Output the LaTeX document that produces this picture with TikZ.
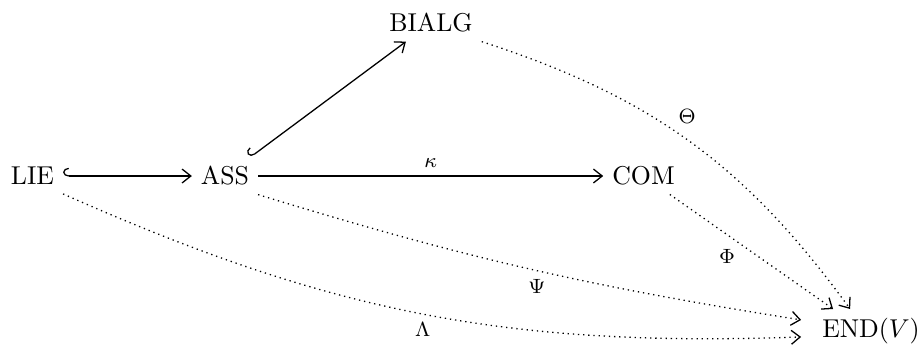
\documentclass[tikz,border=0pt]{standalone}
\usetikzlibrary{arrows.meta,positioning,calc}
\tikzset{
  >={Straight Barb[length=3.4pt,width=5.4pt]},
  obj/.style ={inner sep=3.33pt},
  incl/.style={{Hooks[right,length=2.2pt,width=6.4pt]}->, line width=0.5pt},
  mor/.style ={->, line width=0.5pt},
  rep/.style ={->, line width=0.5pt, dash pattern=on 0.5pt off 1.5pt},
  lbl/.style ={font=\footnotesize, inner sep=1pt},
}
\begin{document}
\begin{tikzpicture}[x=0.3876pt,y=-0.3876pt]
\useasboundingbox (0,0) rectangle (923,349);
% objects
\node[obj] (lie)   at (32.5,176)  {LIE};
\node[obj] (ass)   at (225,176)   {ASS};
\node[obj] (bialg) at (431,23)    {BIALG};
\node[obj] (com)   at (643.5,176) {COM};
\node[obj, inner xsep=8pt] (endv) at (871,331) {END$(V)$};
% inclusions and the map kappa
\draw[incl] (lie) -- (ass);
\draw[incl] (ass) -- (bialg);
\draw[mor] (ass) -- node[lbl, above=2pt] {$\kappa$} (com);
% representations
\draw[rep] (bialg.south east) to[bend left=18]
  node[lbl, pos=0.45, above right=1.5pt] {$\Theta$} ([xshift=-8.1pt]endv.north);
\draw[rep] (com) -- node[lbl, pos=0.35, below=4.5pt] {$\Phi$} ([xshift=-14.7pt]endv.north);
\draw[rep] (ass.south east) to[bend right=4]
  node[lbl, pos=0.52, below=2pt] {$\Psi$} ([yshift=4.3pt]endv.west);
\draw[rep] (lie.south east) to[bend right=13]
  node[lbl, pos=0.5, below=2pt] {$\Lambda$} ([yshift=-2.3pt]endv.west);
\end{tikzpicture}
\end{document}
